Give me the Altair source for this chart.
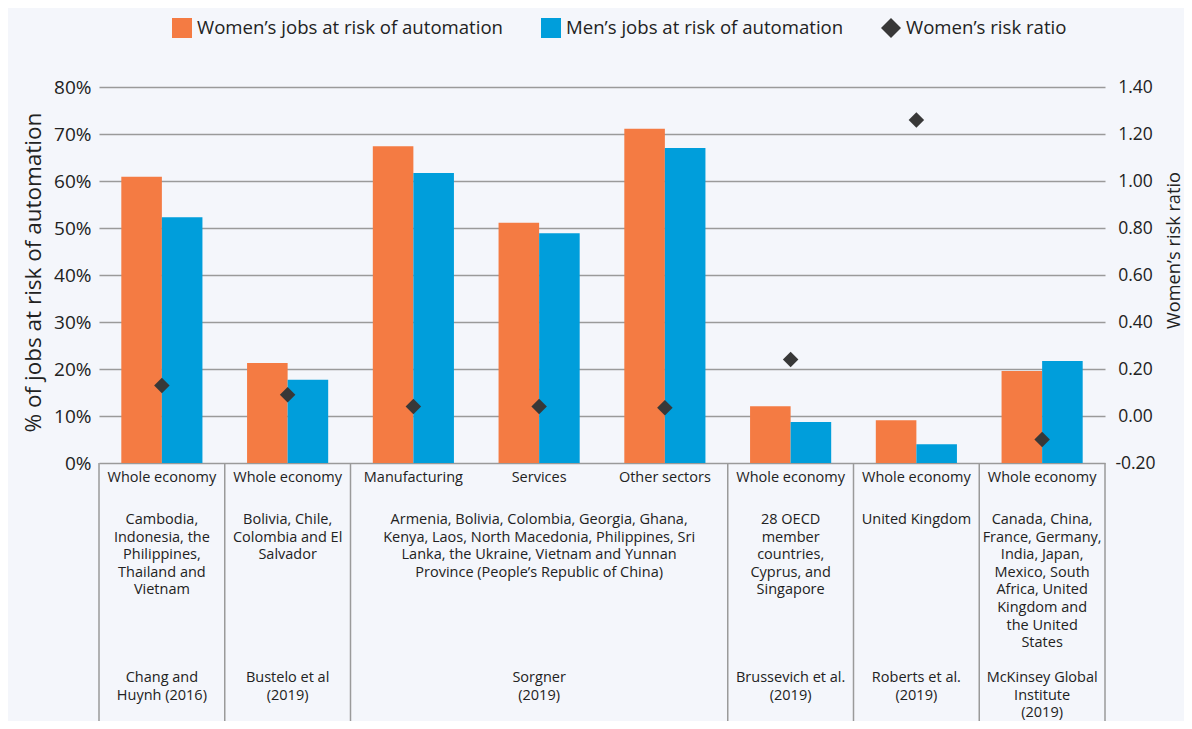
import altair as alt
import pandas as pd

# ---------------- data ----------------
cats = ["c1", "c2", "c3", "c4", "c5", "c6", "c7", "c8"]
sectors = ["Whole economy", "Whole economy", "Manufacturing", "Services",
           "Other sectors", "Whole economy", "Whole economy", "Whole economy"]
women = [60.9, 21.3, 67.4, 51.1, 71.1, 12.1, 9.1, 19.6]
men = [52.3, 17.7, 61.7, 48.9, 67.0, 8.7, 4.0, 21.7]
ratio = [0.13, 0.09, 0.04, 0.04, 0.035, 0.24, 1.26, -0.10]

country_cats = ["c1", "c2", "c4", "c6", "c7", "c8"]
countries = [
    "Cambodia,\nIndonesia, the\nPhilippines,\nThailand and\nVietnam",
    "Bolivia, Chile,\nColombia and El\nSalvador",
    "Armenia, Bolivia, Colombia, Georgia, Ghana,\nKenya, Laos, North Macedonia, Philippines, Sri\nLanka, the Ukraine, Vietnam and Yunnan\nProvince (People’s Republic of China)",
    "28 OECD\nmember\ncountries,\nCyprus, and\nSingapore",
    "United Kingdom",
    "Canada, China,\nFrance, Germany,\nIndia, Japan,\nMexico, South\nAfrica, United\nKingdom and\nthe United\nStates",
]
sources = [
    "Chang and\nHuynh (2016)",
    "Bustelo et al\n(2019)",
    "Sorgner\n(2019)",
    "Brussevich et al.\n(2019)",
    "Roberts et al.\n(2019)",
    "McKinsey Global\nInstitute\n(2019)",
]
group_starts = ["c1", "c2", "c3", "c6", "c7", "c8"]

S_W = "Women’s jobs at risk of automation"
S_M = "Men’s jobs at risk of automation"
S_R = "Women’s risk ratio"
series3 = [S_W, S_M, S_R]

pct_ticks = [0, 10, 20, 30, 40, 50, 60, 70, 80]
ratio_ticks = [-0.2, 0.0, 0.2, 0.4, 0.6, 0.8, 1.0, 1.2, 1.4]

ORANGE = "#F47B43"
BLUE = "#009EDB"
DARK = "#383838"
GRID = "#9A9A9A"
TEXT = "#222222"
BG = "#F4F6FB"
FONT = "Open Sans"

bars_df = pd.DataFrame({"cat": cats * 2,
                        "series": [S_W] * len(cats) + [S_M] * len(cats),
                        "value": women + men})
ratio_df = pd.DataFrame({"cat": cats, "series": [S_R] * len(cats), "ratio": ratio})
sector_df = pd.DataFrame({"cat": cats, "label": sectors})
country_df = pd.DataFrame({"cat": country_cats, "label": countries})
source_df = pd.DataFrame({"cat": country_cats, "label": sources})
bound_df = pd.DataFrame({"cat": group_starts})
end_df = pd.DataFrame({"cat": [cats[-1]]})

W, H = 1006, 376

x_scale = alt.Scale(domain=cats, paddingInner=0, paddingOuter=0)
color_scale = alt.Scale(domain=series3, range=[ORANGE, BLUE, DARK])
shape_scale = alt.Scale(domain=series3, range=["square", "square", "diamond"])


def xenc(bp=None):
    if bp is None:
        return alt.X("cat:N", scale=x_scale, axis=None, sort=cats)
    return alt.X("cat:N", scale=x_scale, axis=None, sort=cats, bandPosition=bp)


def legend():
    return alt.Legend(title=None, orient="none", direction="horizontal",
                      legendX=73, legendY=-69)


bars = alt.Chart(bars_df).mark_bar().encode(
    x=xenc(),
    xOffset=alt.XOffset("series:N", sort=[S_W, S_M],
                        scale=alt.Scale(domain=[S_W, S_M], paddingInner=0, paddingOuter=0.55)),
    y=alt.Y("value:Q", scale=alt.Scale(domain=[0, 80], nice=False),
            axis=alt.Axis(orient="left", values=pct_ticks, labelExpr="datum.value + '%'",
                          grid=True, gridColor=GRID, gridWidth=1.3, domain=False, ticks=False,
                          labelPadding=8, labelFontSize=19, labelColor=TEXT, labelFont=FONT,
                          title="% of jobs at risk of automation", titleFontSize=22.5,
                          titleFontWeight="normal", titleColor=TEXT, titleFont=FONT,
                          titleAngle=270, titleX=-66, titleY=185, titleAlign="center",
                          titleBaseline="middle")),
    color=alt.Color("series:N", scale=color_scale, legend=legend()),
)

points = alt.Chart(ratio_df).mark_point(filled=True, opacity=1, size=240).encode(
    x=xenc(),
    y=alt.Y("ratio:Q", scale=alt.Scale(domain=[-0.2, 1.4], nice=False, zero=False),
            axis=alt.Axis(orient="right", values=ratio_ticks,
                          labelExpr="(datum.value < 0 ? '-' : '') + format(abs(datum.value), '.2f')",
                          grid=False, domain=False, ticks=False, labelAlign="center",
                          labelPadding=30, labelFontSize=17.5, labelColor=TEXT, labelFont=FONT,
                          title="Women’s risk ratio", titleFontSize=18.2,
                          titleFontWeight="normal", titleColor=TEXT, titleFont=FONT,
                          titleAngle=270, titleX=69, titleY=163, titleAlign="center",
                          titleBaseline="middle")),
    color=alt.Color("series:N", scale=color_scale, legend=legend()),
    shape=alt.Shape("series:N", scale=shape_scale, legend=legend()),
)

rules = alt.Chart(bound_df).mark_rule(color=GRID, strokeWidth=1.5).encode(
    x=xenc(0), y=alt.value(H), y2=alt.value(H + 300))
end_rule = alt.Chart(end_df).mark_rule(color=GRID, strokeWidth=1.5).encode(
    x=xenc(1), y=alt.value(H), y2=alt.value(H + 300))

txt_kw = dict(font=FONT, fontSize=14.5, color=TEXT, lineBreak="\n", lineHeight=17.6,
              align="center", baseline="top")

sector_txt = alt.Chart(sector_df).mark_text(**txt_kw).encode(
    x=xenc(), y=alt.value(H + 8), text="label:N")
country_txt = alt.Chart(country_df).mark_text(**txt_kw).encode(
    x=xenc(), y=alt.value(H + 50), text="label:N")
source_txt = alt.Chart(source_df).mark_text(**txt_kw).encode(
    x=xenc(), y=alt.value(H + 208), text="label:N")

chart = alt.layer(bars, points, rules, end_rule, sector_txt, country_txt, source_txt).resolve_scale(
    y="independent"
).properties(
    width=W, height=H,
    padding={"left": 91, "top": 79, "right": 79, "bottom": 258},
    autosize=alt.AutoSizeParams(type="none"),
).configure(background=BG).configure_view(strokeWidth=0).configure_legend(
    labelFont=FONT, labelFontSize=18.6, labelColor=TEXT, symbolSize=400, labelOffset=5,
    columnPadding=37, padding=0, symbolStrokeWidth=0, symbolOpacity=1, labelLimit=400,
)

chart.save("out.html", embed_options={"renderer": "svg", "actions": False})
